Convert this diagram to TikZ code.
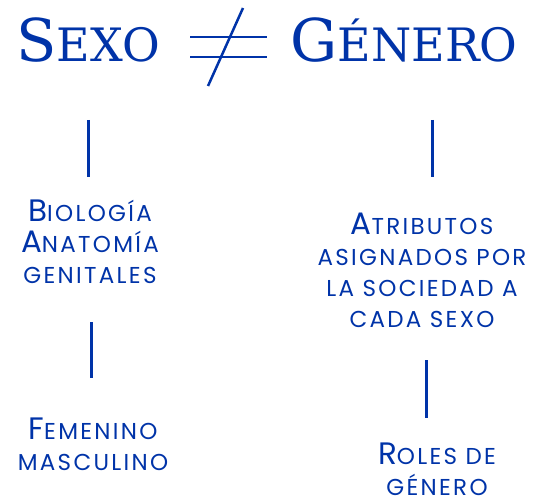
\documentclass[tikz,border=0pt]{standalone}
\usepackage{fontspec}
\setmainfont{Poppins}[LetterSpace=10]
\newfontfamily\slabfont{DejaVu Serif}
\usetikzlibrary{calc,positioning}

\definecolor{azul}{HTML}{0033A8}
% fake small caps: big initial letter
\newcommand{\inicial}[1]{{\fontsize{31}{31}\selectfont #1}}
\newcommand{\titinicial}[1]{{\fontsize{59}{60}\selectfont #1}}

\tikzset{
	rasgo/.style={azul,align=center,anchor=base,inner sep=0pt,
		font=\fontsize{23}{31}\selectfont},
	titulo/.style={azul,anchor=base,inner sep=0pt,
		font=\slabfont\fontsize{46}{60}\selectfont},
	barra/.style={azul,line width=3pt},
}

\begin{document}
\begin{tikzpicture}[x=1pt,y=-1pt]
		% page frame, same size as the reference
		\useasboundingbox (0,0) rectangle (545,502);
		
		% titles
		\node[titulo] (sexo) at (88,62) {\titinicial{S}EXO};
		\node[titulo] (genero) at (404,62) {\titinicial{G}ÉNERO};
		
		% the "not equal" sign between both titles
		\coordinate (neq) at (228,47);
		\draw[barra,line width=2.5pt] ($(neq)+(-38,-10)$) -- ++(77,0);
		\draw[barra,line width=2.5pt] ($(neq)+(-38,10)$) -- ++(77,0);
		\draw[barra,line width=2.5pt] ($(neq)+(15,-39)$) -- ($(neq)+(-20,39)$);
		
		% left column (base = last line)
		\node[rasgo] (bio) at (90,283) {\inicial{B}IOLOGÍA\\\inicial{A}NATOMÍA\\GENITALES};
		\node[rasgo] (fem) at (93,470) {\inicial{F}EMENINO\\MASCULINO};
		
		% right column
		\node[rasgo] (atrib) at (422,327) {\inicial{A}TRIBUTOS\\ASIGNADOS POR\\LA SOCIEDAD A\\CADA SEXO};
		\node[rasgo] (roles) at (437,495) {\inicial{R}OLES DE\\GÉNERO};
		
		% separating bars
		\coordinate (sexoA) at (88,120);
		\coordinate (sexoB) at (88,177);
		\coordinate (bioA) at (91,322);
		\coordinate (bioB) at (91,378);
		\coordinate (genA) at (432,120);
		\coordinate (genB) at (432,177);
		\coordinate (atribA) at (426,360);
		\coordinate (atribB) at (426,418);
		\foreach \a/\b in {sexoA/sexoB,bioA/bioB,genA/genB,atribA/atribB}
		\draw[barra] (\a) -- (\b);
\end{tikzpicture}
\end{document}
